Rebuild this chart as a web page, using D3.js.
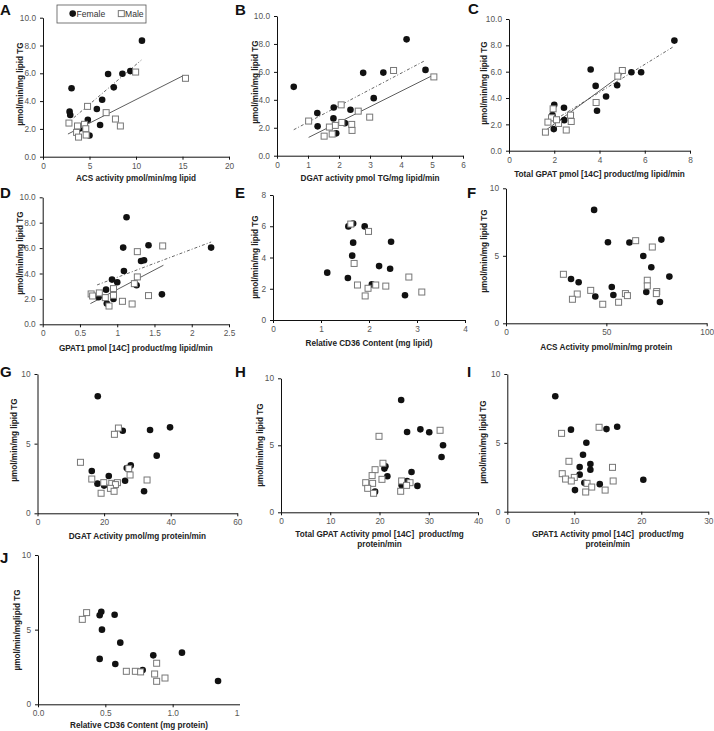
<!DOCTYPE html>
<html><head><meta charset="utf-8">
<script src="https://cdn.jsdelivr.net/npm/d3@7"></script>
<style>
body{margin:0;background:#fff;}
svg{display:block;font-family:"Liberation Sans",Arial,sans-serif;}
</style></head>
<body><svg id="c" width="714" height="731"></svg>
<script>
// ---------- DATA ----------
const femaleA = [[10.64,8.35],[9.39,6.16],[8.54,5.97],[7.0,5.95],[7.61,4.99],[6.36,4.1],[3.07,4.92],[5.79,3.43],[2.86,3.24],[2.93,3.0],[4.82,2.66],[6.14,2.28],[4.0,2.04],[5.0,1.53]];
const maleA = [[9.96,6.09],[15.32,5.64],[4.79,3.62],[6.79,3.17],[2.79,2.42],[7.79,2.71],[8.32,2.21],[3.71,2.21],[4.46,2.33],[4.6,2.01],[3.61,1.75],[4.64,1.56],[3.82,1.41]];
const fitFemaleA = [[3.3,2.8],[10.57,6.95]];
const fitMaleA = [[2.68,1.63],[15.14,5.85]];

const femaleB = [[4.18,8.33],[4.79,6.14],[2.78,5.93],[3.43,5.95],[0.54,4.93],[3.12,4.12],[1.83,3.45],[2.37,3.29],[1.30,3.05],[1.82,2.67],[2.19,2.33],[1.31,2.10],[1.91,1.6]];
const maleB = [[3.76,6.10],[5.06,5.64],[2.07,3.64],[2.62,3.19],[2.99,2.76],[1.02,2.48],[2.09,2.38],[1.88,2.17],[1.69,2.05],[2.41,2.24],[2.42,1.81],[1.52,1.40],[1.78,1.55]];
const fitFemaleB = [[0.54,1.86],[4.76,6.79]];
const fitMaleB = [[1.02,1.31],[5.06,5.79]];

const femaleC = [[7.31,8.36],[3.61,6.16],[5.41,5.96],[5.84,5.96],[3.83,4.92],[4.78,4.97],[4.29,4.12],[3.89,3.03],[2.0,3.48],[2.43,3.26],[1.92,2.70],[2.44,2.32],[1.98,1.64]];
const maleC = [[5.01,6.09],[4.81,5.66],[3.85,3.66],[1.95,3.18],[2.72,2.70],[2.75,2.22],[1.88,2.5],[1.72,2.17],[2.19,2.07],[2.53,1.57],[1.61,1.41],[2.1,2.35]];
const fitFemaleC = [[1.7,2.0],[7.3,7.93]];
const fitMaleC = [[1.62,1.55],[5.0,5.8]];

const femaleD = [[1.125,8.43],[1.08,6.04],[1.42,6.22],[2.26,6.04],[1.32,4.99],[1.36,5.04],[1.09,4.2],[0.93,3.52],[1.0,3.31],[1.26,3.07],[0.85,2.73],[1.60,2.36],[0.75,2.13],[0.95,2.0],[0.86,1.63]];
const maleD = [[1.61,6.17],[1.27,5.72],[1.27,3.73],[1.23,3.2],[0.95,2.81],[0.95,2.28],[1.42,2.26],[0.65,2.39],[0.67,2.23],[0.76,2.47],[0.84,2.1],[1.07,1.81],[1.2,1.6],[0.89,1.44]];
const fitFemaleD = [[0.73,3.1],[2.26,6.48]];
const fitMaleD = [[0.64,1.63],[1.62,4.65]];

const femaleE = [[1.67,6.18],[1.57,5.99],[1.91,5.99],[2.46,5.01],[1.67,4.95],[1.65,4.12],[1.13,3.03],[2.21,3.45],[2.44,3.28],[1.56,2.69],[2.06,2.28],[2.75,1.58]];
const maleE = [[1.62,6.14],[1.99,5.67],[1.69,3.62],[2.83,2.75],[1.76,2.24],[2.14,2.24],[2.35,2.17],[1.98,2.03],[1.92,1.54],[3.1,1.79]];

const femaleF = [[43.9,8.4],[50.8,6.0],[61.5,5.98],[77.4,6.2],[68.4,4.99],[72.4,4.15],[81.4,3.46],[32.4,3.28],[36.2,3.04],[52.7,2.69],[53.5,2.1],[44.5,1.98],[69.9,2.32],[76.7,1.58]];
const maleF = [[64.6,6.12],[72.9,5.65],[28.6,3.63],[70.4,3.19],[70.4,2.77],[42.2,2.44],[35.5,2.17],[33.1,1.78],[59.5,2.2],[60.5,2.05],[75.1,2.35],[74.9,2.2],[56.1,1.56],[48.2,1.41]];

const femaleG = [[18.1,8.4],[25.6,5.93],[33.8,5.98],[39.8,6.17],[35.8,4.14],[28.0,3.44],[26.8,3.25],[16.3,3.04],[21.4,2.68],[18.0,2.13],[20.0,1.99],[26.3,2.34],[32.0,1.58]];
const maleG = [[24.3,6.12],[23.1,5.67],[12.9,3.66],[27.4,3.21],[27.8,2.75],[16.3,2.46],[32.9,2.39],[19.9,2.2],[22.3,2.15],[24.0,2.2],[23.4,2.06],[21.9,1.79],[23.0,1.58],[19.1,1.44]];

const femaleH = [[24.4,8.38],[25.6,5.99],[28.3,6.19],[30.1,5.97],[32.9,5.0],[32.6,4.13],[21.2,3.43],[21.0,3.26],[21.6,2.69],[26.5,3.01],[25.6,2.34],[27.7,1.97],[24.5,2.01],[19.1,1.54]];
const maleH = [[32.3,6.12],[19.9,5.67],[20.7,3.66],[19.1,3.18],[18.5,2.74],[20.5,2.46],[17.2,2.21],[18.6,2.16],[17.6,1.79],[18.8,1.42],[24.5,2.34],[26.2,2.21],[25.5,2.01],[24.3,1.57]];

const femaleI = [[7.16,8.38],[9.5,5.96],[14.8,6.0],[16.4,6.17],[11.8,5.01],[11.3,4.14],[12.4,3.46],[10.8,3.24],[12.4,3.05],[10.8,2.69],[20.3,2.32],[13.8,2.0],[11.5,2.1],[10.1,1.57]];
const maleI = [[13.7,6.13],[8.1,5.69],[9.2,3.66],[15.7,3.22],[8.2,2.76],[8.7,2.37],[10.0,2.49],[9.55,2.23],[11.9,2.06],[12.6,1.79],[15.8,2.23],[14.6,1.57],[11.7,1.43]];

const femaleJ = [[0.47,6.2],[0.458,5.96],[0.569,6.0],[0.475,5.0],[0.611,4.13],[0.856,3.28],[1.069,3.46],[0.458,3.04],[0.574,2.7],[0.777,2.3],[1.337,1.56]];
const maleJ = [[0.361,6.14],[0.329,5.69],[0.881,2.75],[0.656,2.21],[0.723,2.21],[0.762,2.17],[0.866,2.03],[0.943,1.76],[0.881,1.54]];

// tick values
const ticksY10two = [0,2,4,6,8,10];
const ticksY8 = [0,2,4,6,8];
const ticksY10five = [0,5,10];
const ticksXA = [0,5,10,15,20];
const ticksXB = [0,1,2,3,4,5,6];
const ticksXC = [0,2,4,6,8];
const ticksXD = [0,0.5,1,1.5,2,2.5];
const ticksXE = [0,1,2,3,4];
const ticksXF = [0,50,100];
const ticksXG = [0,20,40,60];
const ticksXH = [0,10,20,30,40];
const ticksXI = [0,10,20,30];
const ticksXJ = [0,0.5,1,1.5];

// texts
const legendLabels = ["Female","Male"];
const panelLetters = ["A","B","C","D","E","F","G","H","I","J"];
const yTitle = "\u00b5mol/min/mg lipid TG";
const yTitleJ = "\u00b5mol/min/mglipid TG";
const xTitles = [
  ["ACS activity pmol/min/mg lipid"],
  ["DGAT activity pmol TG/mg lipid/min"],
  ["Total GPAT pmol [14C] product/mg lipid/min"],
  ["GPAT1 pmol [14C] product/mg lipid/min"],
  ["Relative CD36 Content (mg lipid)"],
  ["ACS Activity pmol/min/mg protein"],
  ["DGAT Activity pmol/mg protein/min"],
  ["Total GPAT Activity pmol [14C]\u00a0 product/mg","protein/min"],
  ["GPAT1 Activity pmol [14C]\u00a0 product/mg","protein/min"],
  ["Relative CD36 Content (mg protein)"]
];

// ---------- LAYOUT ----------
const f1 = d3.format(".1f"), fd = d3.format("d"), fg = v => String(v);
const panels = [
  {f:femaleA,m:maleA,ff:fitFemaleA,fm:fitMaleA,xd:[0,20],yd:[0,10],xt:ticksXA,yt:ticksY10two,xf:fd,yf:f1,px:[43,229],py:[156.7,17.7],xly:181,ylx:20,yly:84,lx:0,ly:15},
  {f:femaleB,m:maleB,ff:fitFemaleB,fm:fitMaleB,xd:[0,6],yd:[0,10],xt:ticksXB,yt:ticksY10two,xf:fd,yf:f1,px:[277,463],py:[155.7,16],xly:181,ylx:255,yly:82,lx:235,ly:15},
  {f:femaleC,m:maleC,ff:fitFemaleC,fm:fitMaleC,xd:[0,8],yd:[0,10],xt:ticksXC,yt:ticksY10two,xf:fd,yf:f1,px:[509,690],py:[150.7,19],xly:177,ylx:484,yly:83,lx:468,ly:14},
  {f:femaleD,m:maleD,ff:fitFemaleD,fm:fitMaleD,xd:[0,2.5],yd:[0,10],xt:ticksXD,yt:ticksY10two,xf:fg,yf:f1,px:[42.7,229],py:[324.3,197.3],xly:351,ylx:20,yly:253,lx:0,ly:198},
  {f:femaleE,m:maleE,xd:[0,4],yd:[0,8],xt:ticksXE,yt:ticksY8,xf:fd,yf:fd,px:[273,465],py:[320,195],xly:346,ylx:255,yly:257,lx:235,ly:198},
  {f:femaleF,m:maleF,xd:[0,100],yd:[0,10],xt:ticksXF,yt:ticksY10five,xf:fd,yf:fd,px:[506,706.7],py:[323.3,188.3],xly:350,ylx:484,yly:251,lx:467,ly:198},
  {f:femaleG,m:maleG,xd:[0,60],yd:[0,10],xt:ticksXG,yt:ticksY10five,xf:fd,yf:fd,px:[37.5,237.3],py:[513.3,374],xly:538.7,ylx:14,yly:440,lx:0,ly:377},
  {f:femaleH,m:maleH,xd:[0,40],yd:[0,10],xt:ticksXH,yt:ticksY10five,xf:fd,yf:fd,px:[281,478],py:[512.3,378.3],xly:537.3,ylx:260,yly:445,lx:235,ly:377},
  {f:femaleI,m:maleI,xd:[0,30],yd:[0,10],xt:ticksXI,yt:ticksY10five,xf:fd,yf:fd,px:[507.3,708.3],py:[511.7,374],xly:537.3,ylx:483,yly:442,lx:467,ly:377},
  {f:femaleJ,m:maleJ,xd:[0,1.5],yd:[0,10],xt:ticksXJ,yt:ticksY10five,xf:f1,yf:fd,px:[38,240],py:[704.3,555],xly:728.3,ylx:16.7,yly:630,lx:0,ly:563,clip:240}
];

const svg = d3.select("#c");
svg.append("rect").attr("width",714).attr("height",731).attr("fill","#fff");
const defs = svg.append("defs");

panels.forEach((p,i)=>{
  const g = svg.append("g");
  if (p.clip) {
    defs.append("clipPath").attr("id","clip"+i).append("rect").attr("x",0).attr("y",p.py[1]-20).attr("width",p.clip).attr("height",200);
    g.attr("clip-path",`url(#clip${i})`);
  }
  const x = d3.scaleLinear().domain(p.xd).range(p.px);
  const y = d3.scaleLinear().domain(p.yd).range(p.py);

  const xa = g.append("g").attr("transform",`translate(0,${p.py[0]})`)
    .call(d3.axisBottom(x).tickValues(p.xt).tickFormat(p.xf).tickSize(3).tickSizeOuter(0).tickPadding(3));
  const ya = g.append("g").attr("transform",`translate(${p.px[0]},0)`)
    .call(d3.axisLeft(y).tickValues(p.yt).tickFormat(p.yf).tickSize(3).tickSizeOuter(0).tickPadding(4));
  [xa,ya].forEach(a=>{
    a.select(".domain").attr("stroke","#111").attr("stroke-width",1);
    a.selectAll(".tick line").attr("stroke","#111");
    a.selectAll(".tick text").attr("fill","#555").attr("font-size",8.3).attr("font-family","Liberation Sans, Arial, sans-serif");
  });

  // fit lines
  if (p.ff) {
    g.append("line").attr("x1",x(p.ff[0][0])).attr("y1",y(p.ff[0][1])).attr("x2",x(p.ff[1][0])).attr("y2",y(p.ff[1][1]))
      .attr("stroke","#555").attr("stroke-width",0.9).attr("stroke-dasharray","3,2,1,2");
  }
  if (p.fm) {
    g.append("line").attr("x1",x(p.fm[0][0])).attr("y1",y(p.fm[0][1])).attr("x2",x(p.fm[1][0])).attr("y2",y(p.fm[1][1]))
      .attr("stroke","#333").attr("stroke-width",0.8);
  }

  g.append("g").selectAll("circle").data(p.f).join("circle")
    .attr("cx",d=>x(d[0])).attr("cy",d=>y(d[1])).attr("r",3.3).attr("fill","#111");
  g.append("g").selectAll("rect").data(p.m).join("rect")
    .attr("x",d=>x(d[0])-3).attr("y",d=>y(d[1])-3).attr("width",6).attr("height",6)
    .attr("fill","#fff").attr("stroke","#777").attr("stroke-width",1);

  // x title
  const xt = g.append("text").attr("text-anchor","middle").attr("font-weight","bold").attr("font-size",8.2).attr("fill","#222");
  xTitles[i].forEach((t,k)=>{
    xt.append("tspan").attr("x",(p.px[0]+p.px[1])/2).attr("y",p.xly + k*9.6).text(t);
  });
  // y title
  g.append("text").attr("transform",`translate(${p.ylx},${p.yly}) rotate(-90)`).attr("dy","0.35em")
    .attr("text-anchor","middle").attr("font-weight","bold").attr("font-size",8.2).attr("fill","#222")
    .text(i===9 ? yTitleJ : yTitle);
  // letter
  svg.append("text").attr("x",p.lx).attr("y",p.ly).attr("font-weight","bold").attr("font-size",15).attr("fill","#111").text(panelLetters[i]);

  // legend (panel A)
  if (i===0) {
    const lg = svg.append("g");
    lg.append("rect").attr("x",57).attr("y",5).attr("width",89).attr("height",18).attr("fill","#fff").attr("stroke","#555").attr("stroke-width",0.8);
    lg.append("circle").attr("cx",72.7).attr("cy",13.6).attr("r",3.3).attr("fill","#111");
    lg.append("text").attr("x",76.5).attr("y",16.6).attr("font-size",8.6).attr("fill","#333").text(legendLabels[0]);
    lg.append("rect").attr("x",118.3).attr("y",10.6).attr("width",6).attr("height",6).attr("fill","#fff").attr("stroke","#777");
    lg.append("text").attr("x",125).attr("y",16.6).attr("font-size",8.6).attr("fill","#333").text(legendLabels[1]);
  }
});
</script>
</body></html>
